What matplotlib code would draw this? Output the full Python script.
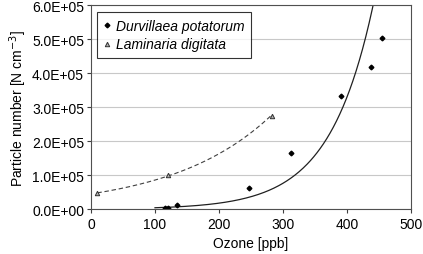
import numpy as np
import matplotlib
matplotlib.use("Agg")
import matplotlib.pyplot as plt
from matplotlib.ticker import FuncFormatter

plt.rcParams['font.family'] = ['Liberation Sans', 'DejaVu Sans']

# Data
durv_x = [116, 121, 135, 247, 313, 390, 438, 455]
durv_y = [3000, 3000, 12000, 61000, 164000, 333000, 417000, 503000]
lam_x = [10, 120, 283]
lam_y = [47000, 100000, 275000]

# exponential trendlines (log-linear fit, as a spreadsheet does)
def expfit(x, y):
    b, lna = np.polyfit(x, np.log(y), 1)
    return np.exp(lna), b

da, db = expfit(durv_x, durv_y)
la, lb = expfit(lam_x, lam_y)

fig = plt.figure(figsize=(4.23, 2.55), dpi=100)
ax = fig.add_axes([0.215, 0.176, 0.757, 0.800])

ax.set_xlim(0, 500)
ax.set_ylim(0, 6e5)
ax.set_yticks(np.arange(0, 6.01e5, 1e5))
ax.set_xticks(np.arange(0, 501, 100))
ax.yaxis.grid(True, color='#c8c8c8', lw=0.8)
ax.set_axisbelow(True)

xt = np.linspace(100, 480, 300)
ax.plot(xt, da * np.exp(db * xt), color='#202020', lw=0.9)
xl = np.linspace(min(lam_x), max(lam_x), 200)
ax.plot(xl, la * np.exp(lb * xl), color='#404040', lw=0.8, ls=(0, (4, 2.5)))

ax.plot(durv_x, durv_y, ls='none', marker='D', ms=2.4, color='black',
        label='Durvillaea potatorum')
ax.plot(lam_x, lam_y, ls='none', marker='^', ms=3.2, mfc='#b0b0b0',
        mec='#303030', mew=0.7, label='Laminaria digitata')

ax.yaxis.set_major_formatter(FuncFormatter(
    lambda v, p: ('%.1E' % v) if v else '0.0E+00'))
ax.tick_params(labelsize=10, length=3, width=0.8, color='#404040', pad=2)
ax.tick_params(axis='x', pad=3)
for s in ax.spines.values():
    s.set_color('#505050')
    s.set_linewidth(0.8)

ax.set_xlabel('Ozone [ppb]', fontsize=10, labelpad=3)
ax.set_ylabel('Particle number [N cm$^{-3}$]', fontsize=10, labelpad=2)

leg = ax.legend(loc='upper left', bbox_to_anchor=(0.02, 0.965),
                prop={'style': 'italic', 'size': 10}, frameon=True, fancybox=False,
                handlelength=0.5, handletextpad=0.4, borderpad=0.45,
                labelspacing=0.35, borderaxespad=0)
leg.get_frame().set_edgecolor('black')
leg.get_frame().set_linewidth(0.8)

fig.savefig('out.png', dpi=100)
